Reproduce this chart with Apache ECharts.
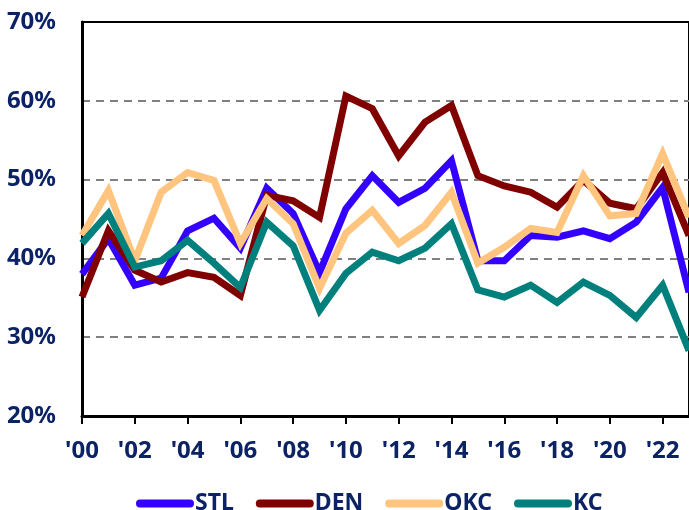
<!DOCTYPE html>
<html>
<head>
<meta charset="utf-8">
<script src="https://cdn.jsdelivr.net/npm/echarts@6/dist/echarts.min.js"></script>
<style>
  html, body { margin: 0; padding: 0; background: #fff; }
  #chart { width: 689px; height: 510px; }
</style>
</head>
<body>
<div id="chart"></div>
<script>
const years = ['00', '01', '02', '03', '04', '05', '06', '07', '08', '09', '10', '11',
  '12', '13', '14', '15', '16', '17', '18', '19', '20', '21', '22', '23'];

const stl = [38.0, 42.5, 36.6, 37.5, 43.5, 45.1, 41.3, 48.9, 45.7, 38.2, 46.3, 50.5,
  47.1, 48.9, 52.4, 39.7, 39.7, 42.9, 42.7, 43.5, 42.5, 44.6, 49.0, 35.7];
const den = [35.1, 43.5, 38.5, 37.0, 38.2, 37.6, 35.3, 48.0, 47.3, 45.2, 60.6, 59.0,
  53.0, 57.3, 59.4, 50.5, 49.2, 48.4, 46.5, 49.9, 47.0, 46.3, 50.9, 42.9];
const okc = [42.9, 48.6, 39.7, 48.4, 50.9, 49.9, 41.9, 47.6, 44.4, 36.2, 43.2, 46.1,
  41.9, 44.2, 48.4, 39.4, 41.4, 43.8, 43.3, 50.5, 45.4, 45.7, 53.3, 45.2];
const kc = [41.9, 45.7, 38.9, 39.7, 42.3, 39.4, 36.3, 44.6, 41.6, 33.4, 38.1, 40.8,
  39.7, 41.3, 44.4, 36.0, 35.1, 36.6, 34.4, 37.0, 35.3, 32.5, 36.6, 28.3];

const navy = '#0B2265';
const font = 'Noto Sans';

const chart = echarts.init(document.getElementById('chart'));

function line(name, data, color) {
  return {
    name: name,
    type: 'line',
    data: data,
    symbol: 'none',
    lineStyle: { width: 7, color: color, join: 'miter' },
    itemStyle: { color: color },
    z: 3,
  };
}

chart.setOption({
  animation: false,
  grid: {
    left: 82,
    top: 22,
    right: -4,
    bottom: 94,
    show: true,
    borderColor: '#000',
    borderWidth: 2,
  },
  legend: {
    top: 487,
    left: 131,
    icon: 'path://M4,0 L54,0 A4,4 0 0 1 54,8 L4,8 A4,4 0 0 1 4,0 Z',
    itemWidth: 58,
    itemHeight: 8,
    itemGap: 22,
    textStyle: { color: navy, fontFamily: font, fontWeight: 'bold', fontSize: 23, padding: [0, 0, 0, -4] },
    data: ['STL', 'DEN', 'OKC', 'KC'],
  },
  xAxis: {
    type: 'category',
    data: years,
    boundaryGap: false,
    axisLine: { lineStyle: { color: '#000', width: 3 } },
    axisTick: { show: true, interval: 1, length: 8, lineStyle: { color: '#000', width: 2 } },
    axisLabel: {
      interval: 1,
      margin: 23,
      color: navy,
      fontFamily: font,
      fontWeight: 'bold',
      fontSize: 24,
      formatter: (v) => "'" + v,
    },
    splitLine: { show: false },
  },
  yAxis: {
    type: 'value',
    min: 20,
    max: 70,
    interval: 10,
    axisLine: { show: true, lineStyle: { color: '#000', width: 3 } },
    axisTick: { show: false },
    axisLabel: {
      margin: 26,
      color: navy,
      fontFamily: font,
      fontWeight: 'bold',
      fontSize: 24,
      formatter: (v) => v + '%',
    },
    splitLine: {
      show: true,
      showMinLine: false,
      showMaxLine: false,
      lineStyle: { color: '#808080', type: [8, 6], width: 2 },
    },
  },
  series: [
    line('STL', stl, '#3300FF'),
    line('DEN', den, '#800000'),
    line('OKC', okc, '#FFC47D'),
    line('KC', kc, '#00807C'),
  ],
});
</script>
</body>
</html>
